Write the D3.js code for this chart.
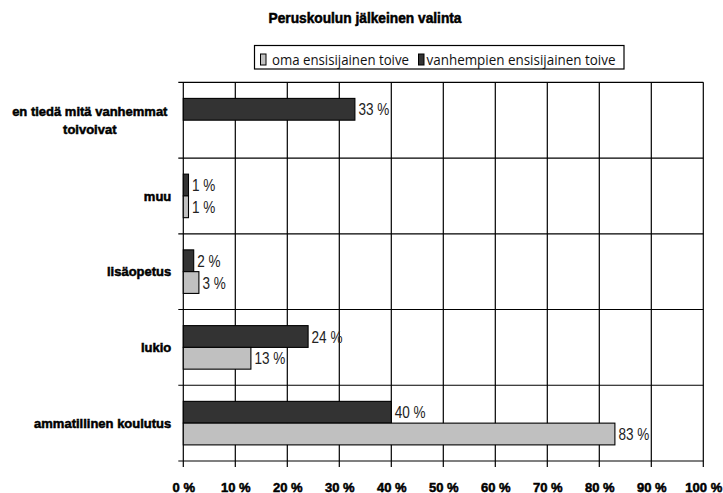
<!DOCTYPE html>
<html>
<head>
<meta charset="utf-8">
<script src="https://cdn.jsdelivr.net/npm/d3@7"></script>
<style>
  html, body { margin: 0; padding: 0; background: #fff; }
  svg { display: block; }
</style>
</head>
<body>
<svg id="chart" width="723" height="493"></svg>
<script>
const title = "Peruskoulun jälkeinen valinta";
const categories = ["en tiedä mitä vanhemmat toivoivat", "muu", "lisäopetus", "lukio", "ammatillinen koulutus"];
const categoryLines = [["en tiedä mitä vanhemmat", "toivoivat"], ["muu"], ["lisäopetus"], ["lukio"], ["ammatillinen koulutus"]];
const seriesNames = ["oma ensisijainen toive", "vanhempien ensisijainen toive"];
const omaValues = [null, 1, 3, 13, 83];
const vanhempienValues = [33, 1, 2, 24, 40];
const xTicks = [0, 10, 20, 30, 40, 50, 60, 70, 80, 90, 100];
const seriesColors = ["#c0c0c0", "#333333"];

const svg = d3.select("#chart");

const plotLeft = 183.3, plotRight = 703.3, plotTop = 82.3, plotBottom = 461;

const x = d3.scaleLinear().domain([0, 100]).range([plotLeft, plotRight]);
const y0 = d3.scaleBand().domain(categories).range([plotTop, plotBottom]).padding(0);
const y1 = d3.scaleBand().domain(["vanhempien", "oma"]).range([0, y0.bandwidth()])
  .paddingInner(0).paddingOuter(0.74);

// Title
svg.append("text")
  .attr("x", 365).attr("y", 22.5)
  .attr("text-anchor", "middle")
  .style("font-family", "'Liberation Sans', Arial, sans-serif")
  .style("font-weight", "bold")
  .style("font-size", "13.8px")
  .attr("stroke", "#000").attr("stroke-width", 0.5)
  .attr("textLength", 193).attr("lengthAdjust", "spacingAndGlyphs")
  .text(title);

// Legend
const lg = svg.append("g");
lg.append("rect").attr("x", 254.5).attr("y", 45.5).attr("width", 369.5).attr("height", 23.5)
  .attr("fill", "#fff").attr("stroke", "#000").attr("stroke-width", 1.2);
const legendItems = [
  { name: seriesNames[0], color: seriesColors[0], sx: 260.5, tx: 272, tw: 137 },
  { name: seriesNames[1], color: seriesColors[1], sx: 418.5, tx: 426.5, tw: 189 }
];
legendItems.forEach(d => {
  lg.append("rect").attr("x", d.sx).attr("y", 54).attr("width", 5.5).attr("height", 11)
    .attr("fill", d.color).attr("stroke", "#000").attr("stroke-width", 1);
  lg.append("text").attr("x", d.tx).attr("y", 65)
    .style("font-family", "'Open Sans', 'Liberation Sans', sans-serif")
    .style("font-size", "14px")
    .attr("fill", "#111")
    .attr("textLength", d.tw).attr("lengthAdjust", "spacingAndGlyphs")
    .text(d.name);
});

// Grid: vertical lines
const grid = svg.append("g").attr("stroke", "#000").attr("stroke-width", 1.2);
grid.selectAll("line.v").data(xTicks).enter().append("line")
  .attr("x1", d => x(d)).attr("x2", d => x(d))
  .attr("y1", plotTop).attr("y2", plotBottom + 6);
// Horizontal separators (category boundaries) with small left ticks
const bounds = categories.map(c => y0(c)).concat([plotBottom]);
grid.selectAll("line.h").data(bounds).enter().append("line")
  .attr("x1", plotLeft - 5).attr("x2", plotRight)
  .attr("y1", d => d).attr("y2", d => d);

// Bars
const data = categories.map((c, i) => ({ cat: c, oma: omaValues[i], vanhempien: vanhempienValues[i] }));
const colorOf = { oma: seriesColors[0], vanhempien: seriesColors[1] };
const bars = [];
data.forEach(d => {
  ["vanhempien", "oma"].forEach(k => {
    if (d[k] != null) bars.push({ cat: d.cat, key: k, value: d[k] });
  });
});

svg.append("g").selectAll("rect").data(bars).enter().append("rect")
  .attr("x", x(0))
  .attr("y", d => y0(d.cat) + y1(d.key))
  .attr("width", d => x(d.value) - x(0))
  .attr("height", y1.bandwidth())
  .attr("fill", d => colorOf[d.key])
  .attr("stroke", "#000").attr("stroke-width", 1.1);

// Value labels
const valLabels = svg.append("g").selectAll("text").data(bars).enter().append("text")
  .attr("x", d => x(d.value) + 3.5)
  .attr("y", d => y0(d.cat) + y1(d.key) + y1.bandwidth() / 2 + 6)
  .style("font-family", "'Liberation Sans Narrow', 'Arial Narrow', 'Liberation Sans', sans-serif")
  .style("font-size", "16.5px")
  .attr("fill", "#222")
  .text(d => d.value + " %");

// Fallback if narrow font missing: compress horizontally
valLabels.each(function(d) {
  const w = this.getComputedTextLength();
  const target = (String(d.value).length * 0.456 + 0.228 + 0.729) * 16.5;
  if (w > target * 1.08) {
    d3.select(this).attr("textLength", target).attr("lengthAdjust", "spacingAndGlyphs");
  }
});

// Category labels
const catG = svg.append("g")
  .style("font-family", "'Liberation Sans', Arial, sans-serif")
  .style("font-weight", "bold")
  .style("font-size", "13px")
  .attr("fill", "#000").attr("stroke", "#000").attr("stroke-width", 0.5);
categories.forEach((c, i) => {
  const lines = categoryLines[i];
  const cy = y0(c) + y0.bandwidth() / 2;
  const lh = 18.3;
  if (lines.length === 1) {
    catG.append("text").attr("x", plotLeft - 12).attr("y", cy + 4.7)
      .attr("text-anchor", "end").text(lines[0]);
  } else {
    lines.forEach((ln, j) => {
      catG.append("text").attr("x", plotLeft - 93.5)
        .attr("y", cy + 4.7 + (j - (lines.length - 1) / 2) * lh)
        .attr("text-anchor", "middle").text(ln);
    });
  }
});

// X axis labels
const xAxis = d3.axisBottom(x).tickValues(xTicks).tickSize(0).tickPadding(0)
  .tickFormat(d => d + " %");
const ax = svg.append("g").attr("transform", `translate(0,${plotBottom})`).call(xAxis);
ax.select(".domain").remove();
ax.selectAll("text")
  .attr("y", 30.5).attr("dy", null)
  .style("font-family", "'Liberation Sans', Arial, sans-serif")
  .style("font-weight", "bold")
  .style("font-size", "13px")
  .attr("fill", "#000").attr("stroke", "#000").attr("stroke-width", 0.5);
</script>
</body>
</html>
